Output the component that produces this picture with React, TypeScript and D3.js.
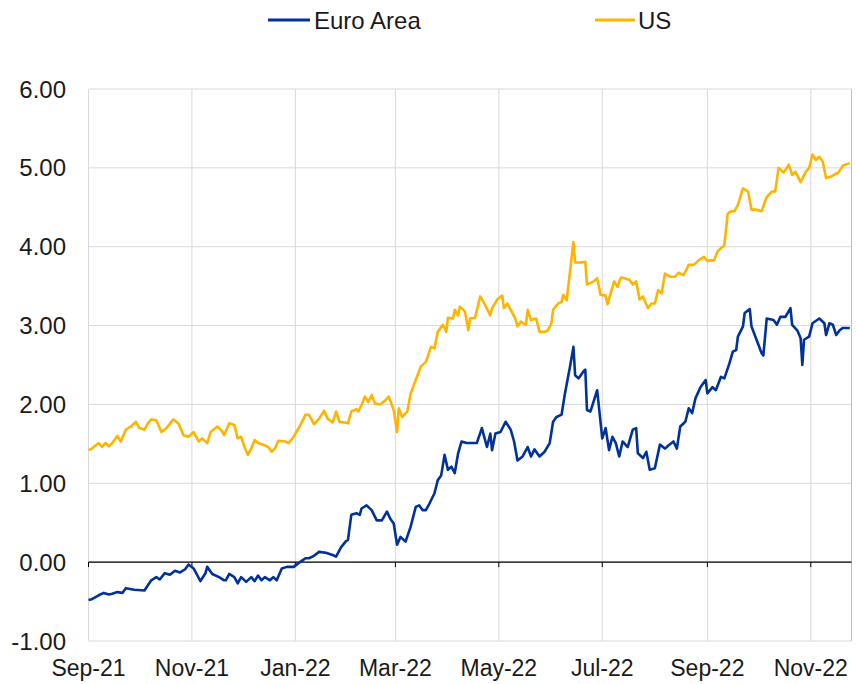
import React from "react";
import * as d3 from "d3";

// values (percent)
const usDates = [
  "2021-09-01","2021-09-03","2021-09-07","2021-09-09","2021-09-11","2021-09-13","2021-09-15","2021-09-18","2021-09-20","2021-09-23","2021-09-26","2021-09-29",
  "2021-10-01","2021-10-04","2021-10-06","2021-10-08","2021-10-11","2021-10-14","2021-10-17","2021-10-21","2021-10-24","2021-10-27","2021-10-30",
  "2021-11-02","2021-11-05","2021-11-07","2021-11-10","2021-11-12","2021-11-16","2021-11-18","2021-11-20","2021-11-23","2021-11-26","2021-11-28","2021-11-30",
  "2021-12-02","2021-12-04","2021-12-06","2021-12-08","2021-12-10","2021-12-14","2021-12-16","2021-12-18","2021-12-20","2021-12-22","2021-12-26","2021-12-28","2021-12-31",
  "2022-01-04","2022-01-07","2022-01-09","2022-01-12","2022-01-15","2022-01-18","2022-01-20","2022-01-23","2022-01-25","2022-01-27","2022-01-30",
  "2022-02-01","2022-02-03","2022-02-06","2022-02-07","2022-02-09","2022-02-11","2022-02-13","2022-02-15","2022-02-17","2022-02-20","2022-02-23","2022-02-25","2022-02-27","2022-02-28",
  "2022-03-02","2022-03-03","2022-03-05","2022-03-08","2022-03-10","2022-03-13","2022-03-16","2022-03-19","2022-03-22","2022-03-24","2022-03-26","2022-03-29","2022-03-31",
  "2022-04-01","2022-04-04","2022-04-05","2022-04-07","2022-04-08","2022-04-11","2022-04-13","2022-04-14","2022-04-17","2022-04-20","2022-04-23","2022-04-26","2022-04-27","2022-04-30",
  "2022-05-03","2022-05-04","2022-05-06","2022-05-09","2022-05-11","2022-05-12","2022-05-14","2022-05-17","2022-05-18","2022-05-20","2022-05-23","2022-05-25","2022-05-28","2022-05-30",
  "2022-06-01","2022-06-02","2022-06-05","2022-06-07","2022-06-08","2022-06-10","2022-06-14","2022-06-15","2022-06-18","2022-06-21","2022-06-22","2022-06-26","2022-06-28","2022-06-30",
  "2022-07-03","2022-07-04","2022-07-08","2022-07-10","2022-07-12","2022-07-14","2022-07-17","2022-07-19","2022-07-21","2022-07-23","2022-07-25","2022-07-28","2022-07-30",
  "2022-08-01","2022-08-03","2022-08-05","2022-08-07","2022-08-10","2022-08-13","2022-08-15","2022-08-18","2022-08-21","2022-08-24","2022-08-27","2022-08-30",
  "2022-09-01","2022-09-05","2022-09-07","2022-09-09","2022-09-11","2022-09-13","2022-09-15","2022-09-17","2022-09-19","2022-09-22","2022-09-25","2022-09-27","2022-09-30",
  "2022-10-03","2022-10-06","2022-10-09","2022-10-11","2022-10-13","2022-10-16","2022-10-19","2022-10-21","2022-10-23","2022-10-26","2022-10-29","2022-10-31",
  "2022-11-02","2022-11-04","2022-11-06","2022-11-08","2022-11-10","2022-11-13","2022-11-16","2022-11-17","2022-11-20","2022-11-24",
];
const usValues = [
  1.42,1.44,1.51,1.46,1.51,1.47,1.51,1.60,1.53,1.68,1.72,1.78,
  1.70,1.68,1.76,1.81,1.80,1.65,1.70,1.81,1.76,1.61,1.59,
  1.65,1.53,1.57,1.51,1.65,1.72,1.68,1.61,1.76,1.74,1.57,1.59,
  1.46,1.36,1.44,1.55,1.51,1.48,1.46,1.40,1.44,1.54,1.53,1.51,1.59,
  1.74,1.87,1.87,1.75,1.82,1.92,1.82,1.77,1.91,1.78,1.77,
  1.76,1.91,1.94,1.91,1.99,2.10,2.03,2.12,2.01,2.00,2.05,2.10,1.99,1.93,
  1.65,1.95,1.84,1.91,2.14,2.31,2.48,2.54,2.73,2.71,2.92,3.01,2.92,
  3.10,3.09,3.20,3.13,3.24,3.18,2.94,3.09,3.10,3.37,3.26,3.13,3.22,3.33,
  3.38,3.22,3.28,3.16,3.07,2.99,3.05,3.01,3.20,3.07,3.09,2.92,2.92,2.94,
  3.03,3.20,3.28,3.30,3.39,3.32,4.06,3.80,3.80,3.81,3.52,3.56,3.60,3.39,
  3.38,3.27,3.56,3.49,3.61,3.60,3.58,3.52,3.56,3.33,3.37,3.22,3.28,
  3.28,3.45,3.41,3.66,3.62,3.62,3.67,3.64,3.77,3.77,3.83,3.87,
  3.82,3.83,3.94,3.98,4.02,4.42,4.45,4.45,4.53,4.74,4.70,4.47,4.47,
  4.45,4.63,4.70,4.70,5.00,4.94,5.04,4.91,4.95,4.82,4.95,5.00,
  5.17,5.10,5.14,5.08,4.87,4.89,4.93,4.93,5.03,5.06,
];

const euroDates = [
  "2021-09-01","2021-09-03","2021-09-07","2021-09-10","2021-09-13","2021-09-15","2021-09-18","2021-09-21","2021-09-23","2021-09-28",
  "2021-10-04","2021-10-08","2021-10-11","2021-10-13","2021-10-16","2021-10-19","2021-10-22","2021-10-25","2021-10-28","2021-10-30",
  "2021-11-02","2021-11-06","2021-11-09","2021-11-10","2021-11-13","2021-11-17","2021-11-20","2021-11-21","2021-11-23","2021-11-26","2021-11-28","2021-11-30",
  "2021-12-03","2021-12-06","2021-12-08","2021-12-10","2021-12-12","2021-12-14","2021-12-17","2021-12-19","2021-12-21","2021-12-24","2021-12-27","2021-12-31",
  "2022-01-03","2022-01-05","2022-01-07","2022-01-09","2022-01-12","2022-01-15","2022-01-19","2022-01-23","2022-01-25","2022-01-28","2022-01-31",
  "2022-02-01","2022-02-03","2022-02-06","2022-02-08","2022-02-09","2022-02-12","2022-02-15","2022-02-18","2022-02-21","2022-02-24","2022-02-26","2022-02-28",
  "2022-03-02","2022-03-04","2022-03-07","2022-03-10","2022-03-13","2022-03-15","2022-03-17","2022-03-19","2022-03-21","2022-03-24","2022-03-26","2022-03-28","2022-03-30",
  "2022-04-01","2022-04-03","2022-04-05","2022-04-07","2022-04-09","2022-04-12","2022-04-14","2022-04-18","2022-04-21","2022-04-24","2022-04-26","2022-04-27","2022-04-29",
  "2022-05-02","2022-05-05","2022-05-08","2022-05-10","2022-05-12","2022-05-15","2022-05-18","2022-05-20","2022-05-22","2022-05-25","2022-05-28","2022-05-31",
  "2022-06-02","2022-06-04","2022-06-07","2022-06-09","2022-06-12","2022-06-14","2022-06-15","2022-06-17","2022-06-20","2022-06-21","2022-06-22","2022-06-24","2022-06-28",
  "2022-07-01","2022-07-03","2022-07-05","2022-07-07","2022-07-09","2022-07-11","2022-07-13","2022-07-16","2022-07-19","2022-07-21","2022-07-22","2022-07-25","2022-07-27","2022-07-29",
  "2022-08-01","2022-08-02","2022-08-04","2022-08-07","2022-08-09","2022-08-12","2022-08-14","2022-08-16","2022-08-19","2022-08-21","2022-08-23","2022-08-25","2022-08-28","2022-08-31",
  "2022-09-01","2022-09-04","2022-09-06","2022-09-09","2022-09-11","2022-09-14","2022-09-16","2022-09-18","2022-09-19","2022-09-22","2022-09-23","2022-09-26","2022-09-27","2022-09-30",
  "2022-10-03","2022-10-04","2022-10-06","2022-10-10","2022-10-12","2022-10-14","2022-10-17","2022-10-20","2022-10-21","2022-10-24","2022-10-26","2022-10-27","2022-10-28","2022-10-31",
  "2022-11-02","2022-11-06","2022-11-09","2022-11-10","2022-11-12","2022-11-14","2022-11-16","2022-11-18","2022-11-20","2022-11-24",
];
const euroValues = [
  -0.48,-0.47,-0.42,-0.39,-0.41,-0.40,-0.38,-0.39,-0.33,-0.35,
  -0.36,-0.23,-0.19,-0.22,-0.14,-0.16,-0.11,-0.13,-0.09,-0.03,
  -0.08,-0.24,-0.14,-0.06,-0.15,-0.19,-0.23,-0.23,-0.15,-0.19,-0.27,-0.19,
  -0.25,-0.19,-0.24,-0.17,-0.23,-0.19,-0.23,-0.19,-0.23,-0.08,-0.06,-0.06,
  -0.01,0.02,0.05,0.05,0.08,0.13,0.12,0.09,0.07,0.19,0.27,
  0.28,0.60,0.62,0.60,0.68,0.72,0.66,0.53,0.53,0.64,0.55,0.49,
  0.22,0.32,0.26,0.45,0.70,0.72,0.66,0.66,0.74,0.87,1.04,1.10,1.36,
  1.17,1.21,1.13,1.38,1.53,1.51,1.51,1.51,1.70,1.46,1.63,1.42,1.63,
  1.65,1.78,1.68,1.53,1.29,1.34,1.46,1.34,1.43,1.34,1.40,1.51,
  1.78,1.84,1.87,2.14,2.48,2.73,2.37,2.33,2.42,2.44,1.93,1.91,2.18,
  1.57,1.70,1.42,1.59,1.51,1.34,1.53,1.46,1.68,1.70,1.38,1.32,1.40,1.17,
  1.19,1.29,1.49,1.44,1.48,1.53,1.44,1.72,1.78,1.95,1.89,2.08,2.22,2.31,
  2.14,2.22,2.18,2.35,2.33,2.52,2.67,2.69,2.86,2.99,3.16,3.21,2.99,2.82,
  2.65,2.62,3.09,3.07,3.01,3.11,3.11,3.22,3.01,2.94,2.84,2.50,2.82,2.86,
  3.03,3.09,3.03,2.88,3.03,3.01,2.88,2.94,2.97,2.97,
];

const tickDates = ["2021-09-01","2021-11-01","2022-01-01","2022-03-01","2022-05-01","2022-07-01","2022-09-01","2022-11-01"];
const tickLabels = ["Sep-21","Nov-21","Jan-22","Mar-22","May-22","Jul-22","Sep-22","Nov-22"];
const yTicks = [-1, 0, 1, 2, 3, 4, 5, 6];

const seriesNames = ["Euro Area", "US"];
const seriesColors = ["#003299", "#ffb400"];

const W = 856;
const H = 684;
const FONT = "'Liberation Sans', Arial, sans-serif";

const parse = d3.timeParse("%Y-%m-%d");

export default function App() {
  const x = d3
    .scaleTime()
    .domain([parse("2021-09-01") as Date, parse("2022-11-25") as Date])
    .range([88.5, 851.5]);
  const y = d3.scaleLinear().domain([-1, 6]).range([641, 89]);

  const line = d3
    .line<[Date, number]>()
    .x((d) => x(d[0]))
    .y((d) => y(d[1]));

  const euro: [Date, number][] = euroDates.map((d, i) => [parse(d) as Date, euroValues[i]]);
  const us: [Date, number][] = usDates.map((d, i) => [parse(d) as Date, usValues[i]]);

  const [x0, x1] = x.range();
  const grid = "#d9d9d9";

  return (
    <svg
      width={W}
      height={H}
      style={{ position: "absolute", left: 0, top: 0, background: "#fff" }}
      fontFamily={FONT}
    >
      {/* horizontal grid */}
      {yTicks.map((t) => (
        <line key={"h" + t} x1={x0} x2={x1} y1={y(t)} y2={y(t)} stroke={grid} strokeWidth={1} />
      ))}
      {/* vertical grid */}
      {tickDates.map((d) => (
        <line key={"v" + d} x1={x(parse(d) as Date)} x2={x(parse(d) as Date)} y1={y(6)} y2={y(-1)} stroke={grid} strokeWidth={1} />
      ))}
      <line x1={x1} x2={x1} y1={y(6)} y2={y(-1)} stroke="#bfbfbf" strokeWidth={1} />

      {/* zero axis with ticks */}
      <line x1={x0} x2={x1} y1={y(0)} y2={y(0)} stroke="#000" strokeWidth={1.2} />
      {tickDates.map((d) => (
        <line key={"t" + d} x1={x(parse(d) as Date)} x2={x(parse(d) as Date)} y1={y(0)} y2={y(0) + 5} stroke="#000" strokeWidth={1} />
      ))}

      {/* y labels */}
      {yTicks.map((t) => (
        <text key={"yl" + t} x={66} y={y(t) + 8.5} textAnchor="end" fontSize={24} fill="#1a1a1a">
          {t.toFixed(2)}
        </text>
      ))}
      {/* x labels */}
      {tickDates.map((d, i) => (
        <text key={"xl" + d} x={x(parse(d) as Date)} y={676} textAnchor="middle" fontSize={23} fill="#1a1a1a">
          {tickLabels[i]}
        </text>
      ))}

      {/* series */}
      <path d={line(us) || ""} fill="none" stroke={seriesColors[1]} strokeWidth={2.6} strokeLinejoin="round" />
      <path d={line(euro) || ""} fill="none" stroke={seriesColors[0]} strokeWidth={2.6} strokeLinejoin="round" />

      {/* legend */}
      <line x1={268} x2={310} y1={20} y2={20} stroke={seriesColors[0]} strokeWidth={3} />
      <text x={314} y={29} fontSize={24} fill="#1a1a1a">{seriesNames[0]}</text>
      <line x1={595} x2={635} y1={20} y2={20} stroke={seriesColors[1]} strokeWidth={3} />
      <text x={638} y={29} fontSize={24} fill="#1a1a1a">{seriesNames[1]}</text>
    </svg>
  );
}
